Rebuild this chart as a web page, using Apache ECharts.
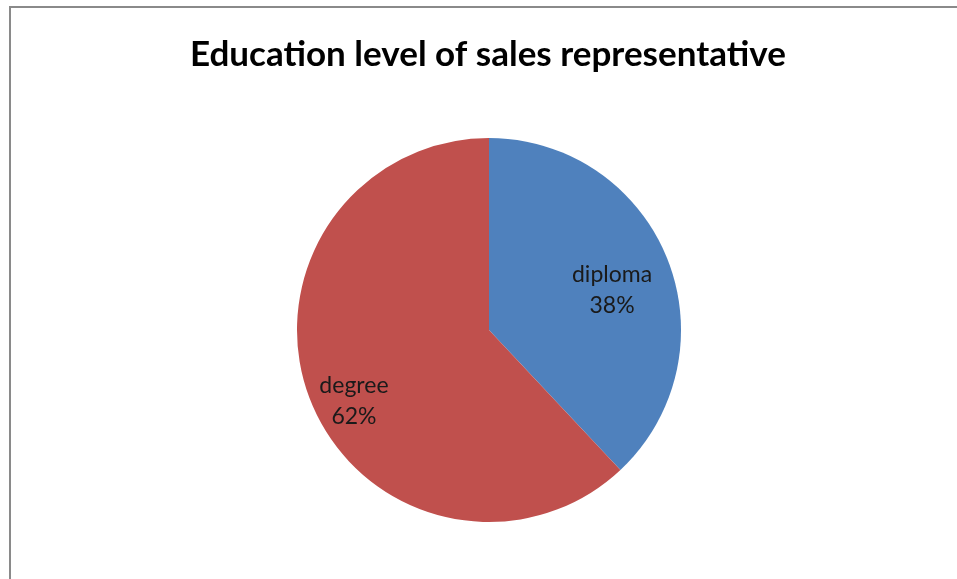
<!DOCTYPE html>
<html><head><meta charset="utf-8">
<script src="https://cdn.jsdelivr.net/npm/echarts@6/dist/echarts.min.js"></script>
<style>html,body{margin:0;padding:0;background:#fff}#c{width:957px;height:579px;}
#frame{position:absolute;left:9px;top:6px;width:960px;height:600px;border:2px solid #8a8a8a;box-sizing:border-box;pointer-events:none}</style>
</head><body><div id="c"></div><div id="frame"></div>
<script>
const titleText = 'Education level of sales representative';
const categories = ['diploma', 'degree'];
const values = [38, 62];
const colors = ['#4F81BD', '#C0504D'];
const labelShift = [[31, -3], [-43, 35]];

const chart = echarts.init(document.getElementById('c'));
chart.setOption({
  animation: false,
  title: {
    text: titleText, left: 185, top: 32,
    textStyle: {fontFamily: 'Lato', fontWeight: 'bold', fontSize: 35, color: '#000'}
  },
  series: [{
    type: 'pie',
    center: [489, 330], radius: [0, 192],
    startAngle: 90, clockwise: true,
    data: categories.map((c, i) => ({name: c, value: values[i], itemStyle: {color: colors[i]}})),
    label: {
      position: 'inside', formatter: '{b}\n{d}%',
      fontFamily: 'Lato', fontSize: 23, lineHeight: 31, color: '#1a1a1a'
    },
    labelLayout: function (p) { return {dx: labelShift[p.dataIndex][0], dy: labelShift[p.dataIndex][1]}; },
    labelLine: {show: false},
    emphasis: {disabled: true}
  }]
});
</script></body></html>
